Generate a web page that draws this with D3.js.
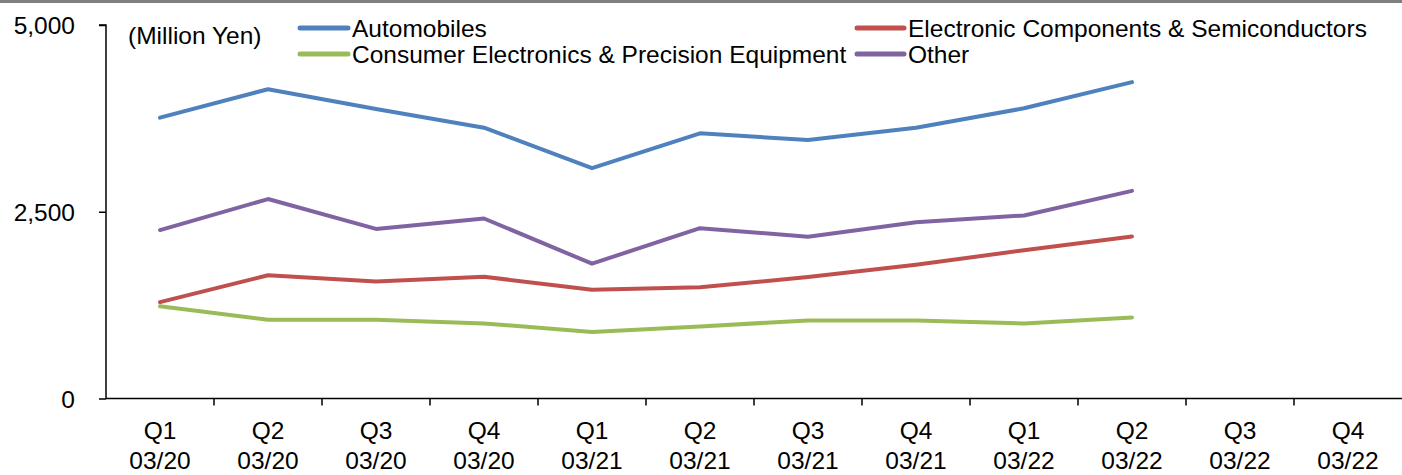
<!DOCTYPE html>
<html>
<head>
<meta charset="utf-8">
<script src="https://cdn.jsdelivr.net/npm/d3@7"></script>
<style>
  html, body { margin: 0; padding: 0; background: #fff; }
  svg { display: block; font-family: "Liberation Sans", Arial, sans-serif; }
</style>
</head>
<body>
<svg id="chart" width="1402" height="475"></svg>
<script>
// Quarterly sales by end market (Million Yen)
const quarters = ["Q1", "Q2", "Q3", "Q4", "Q1", "Q2", "Q3", "Q4", "Q1", "Q2", "Q3", "Q4"];
const periods  = ["03/20", "03/20", "03/20", "03/20", "03/21", "03/21", "03/21", "03/21", "03/22", "03/22", "03/22", "03/22"];

const automobiles = [3760, 4140, 3875, 3625, 3085, 3550, 3460, 3625, 3885, 4235];
const electronicComponents = [1290, 1650, 1565, 1630, 1455, 1490, 1625, 1790, 1985, 2170];
const consumerElectronics = [1235, 1055, 1055, 1005, 890, 965, 1045, 1045, 1005, 1085];
const other = [2255, 2670, 2270, 2410, 1805, 2280, 2165, 2360, 2450, 2780];

const yTicks = [0, 2500, 5000];
const unitLabel = "(Million Yen)";

const series = [
  { name: "Automobiles", values: automobiles, color: "#4F81BD" },
  { name: "Electronic Components & Semiconductors", values: electronicComponents, color: "#C0504D" },
  { name: "Consumer Electronics & Precision Equipment", values: consumerElectronics, color: "#9BBB59" },
  { name: "Other", values: other, color: "#8064A2" }
];

const svg = d3.select("#chart");
const fontSize = 24.5;

// top rule
svg.append("rect").attr("x", 0).attr("y", 0).attr("width", 1402).attr("height", 3).attr("fill", "#808080");

const keys = quarters.map((q, i) => i);
const x = d3.scaleBand().domain(keys).range([106, 1402]);
const y = d3.scaleLinear().domain([0, 5000]).range([398.5, 25]);

// y axis
const yAxis = d3.axisLeft(y).tickValues(yTicks).tickSize(7).tickPadding(24)
  .tickFormat(d3.format(","));
const gy = svg.append("g").attr("transform", "translate(106,0)").call(yAxis);
gy.select(".domain").attr("stroke", "#000").attr("stroke-width", 1.5).attr("d", `M-7,${y(5000)}H0V${y(0)}`);
gy.selectAll(".tick line").attr("stroke", "#000").attr("stroke-width", 1.5);
gy.selectAll(".tick text").attr("font-size", fontSize).attr("fill", "#000")
  .attr("font-family", "Liberation Sans, Arial, sans-serif").attr("dy", "0.36em");

// x axis with ticks on band boundaries
const gx = svg.append("g").attr("transform", `translate(0,${y(0)})`);
gx.append("path").attr("d", `M106,0H1402`).attr("stroke", "#000").attr("stroke-width", 1.5).attr("fill", "none");
gx.selectAll("line.bnd").data(keys.slice(1)).join("line")
  .attr("class", "bnd")
  .attr("x1", d => x(d)).attr("x2", d => x(d))
  .attr("y1", 0).attr("y2", 7)
  .attr("stroke", "#000").attr("stroke-width", 1.5);

const lbl = gx.selectAll("text.cat").data(keys).join("text")
  .attr("class", "cat")
  .attr("text-anchor", "middle")
  .attr("font-size", fontSize)
  .attr("fill", "#000");
lbl.append("tspan").attr("x", d => x(d) + x.bandwidth() / 2).attr("y", 40).text(d => quarters[d]);
lbl.append("tspan").attr("x", d => x(d) + x.bandwidth() / 2).attr("y", 70).text(d => periods[d]);

// series lines
const line = d3.line()
  .x((d, i) => x(i) + x.bandwidth() / 2)
  .y(d => y(d));

svg.append("g").selectAll("path").data(series).join("path")
  .attr("d", s => line(s.values))
  .attr("fill", "none")
  .attr("stroke", s => s.color)
  .attr("stroke-width", 4)
  .attr("stroke-linejoin", "round")
  .attr("stroke-linecap", "round");

// unit label
svg.append("text").attr("x", 128).attr("y", 44).attr("font-size", fontSize).attr("fill", "#000").text(unitLabel);

// legend (two columns, two rows)
const legendPos = [
  { lx: 300, tx: 352, y: 28 },
  { lx: 857, tx: 908, y: 28 },
  { lx: 300, tx: 352, y: 54 },
  { lx: 857, tx: 908, y: 54 }
];
const lg = svg.append("g").selectAll("g").data(series).join("g");
lg.append("line")
  .attr("x1", (d, i) => legendPos[i].lx).attr("x2", (d, i) => legendPos[i].tx - 4)
  .attr("y1", (d, i) => legendPos[i].y).attr("y2", (d, i) => legendPos[i].y)
  .attr("stroke", d => d.color).attr("stroke-width", 5).attr("stroke-linecap", "round");
lg.append("text")
  .attr("x", (d, i) => legendPos[i].tx).attr("y", (d, i) => legendPos[i].y + 8.7)
  .attr("font-size", fontSize).attr("fill", "#000")
  .text(d => d.name);
</script>
</body>
</html>
